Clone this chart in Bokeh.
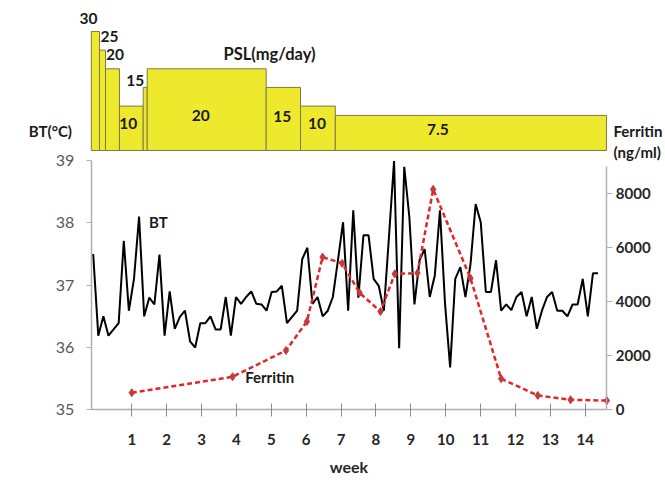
from bokeh.plotting import figure
from bokeh.models import (Range1d, LinearAxis, FixedTicker, Label, ColumnDataSource)
from bokeh.embed import file_html
from bokeh.resources import INLINE

# ---------------- data ----------------
BT_START_WEEK = -0.107
BT_STEP_WEEK = 0.1462
bt_temp = [
    37.50, 36.19, 36.50, 36.19, 36.29, 36.39, 37.71, 36.59, 37.10, 38.10,
    36.50, 36.80, 36.69, 37.49, 36.19, 36.90, 36.30, 36.49, 36.59, 36.10,
    36.00, 36.39, 36.39, 36.50, 36.29, 36.29, 36.81, 36.19, 36.81, 36.70,
    36.81, 36.90, 36.70, 36.69, 36.59, 36.89, 36.90, 36.99, 36.39, 36.49,
    36.59, 37.42, 37.60, 36.70, 36.81, 36.50, 36.59, 36.81, 37.40, 38.01,
    36.59, 38.20, 36.80, 37.80, 37.80, 37.10, 36.99, 36.59, 37.77, 38.99,
    35.99, 38.90, 38.09, 36.69, 37.40, 37.58, 36.81, 37.16, 38.20, 36.70,
    35.68, 37.10, 37.29, 36.81, 37.34, 38.30, 38.01, 36.89, 36.89, 37.40,
    36.59, 36.69, 36.60, 36.81, 36.89, 36.50, 36.81, 36.30, 36.59, 36.81,
    36.89, 36.59, 36.59, 36.50, 36.69, 36.69, 37.10, 36.50, 37.19, 37.19,
]
bt_week = [BT_START_WEEK + i * BT_STEP_WEEK for i in range(len(bt_temp))]

fer_week = [1.00, 3.89, 5.42, 6.02, 6.47, 7.03, 7.53, 8.13, 8.54, 9.19,
            9.64, 10.71, 11.59, 12.64, 13.58, 14.62]
fer_val = [630, 1220, 2190, 3260, 5640, 5410, 4320, 3630, 5020, 5050,
           8140, 4860, 1150, 530, 370, 340]

psl_start = [-0.16, 0.074, 0.246, 0.647, 1.327, 1.442, 4.853, 5.837, 6.835]
psl_end = [0.074, 0.246, 0.647, 1.327, 1.442, 4.853, 5.837, 6.835, 14.61]
psl_dose = [30, 25, 20, 10, 15, 20, 15, 10, 7.5]
psl_text = ["30", "25", "20", "10", "15", "20", "15", "10", "7.5"]

week_ticks = list(range(1, 15))
bt_ticks = [35, 36, 37, 38, 39]
fer_ticks = [0, 2000, 4000, 6000, 8000]

# ---------------- layout / style ----------------
FONT = "Lato"
# the plotting frame covers the whole canvas; axes are pinned at fixed locations
X_FULL = (-2.764, 16.301)
X_AXIS_SPAN = (-0.164, 14.618)
BT_FULL = (33.818, 41.567)
FER_FULL = (-2722, 15115)
PSL_BASE = -1.9
PSL_FULL = (-91.18, 38.31)
psl_inside = [False, False, False, True, False, True, True, True, True]
psl_dx = [-7, 7, 2.5, -3, -10, -6, -1, -1, -33]
psl_dy = [-12.5, -14, -14, -5, -7, 6, -2.5, -5, -3]

p = figure(width=665, height=483, output_backend="svg", toolbar_location=None,
           x_range=Range1d(*X_FULL), y_range=Range1d(*BT_FULL),
           min_border=0, y_axis_location=None, x_axis_location=None)
p.outline_line_color = None
p.grid.visible = False
p.background_fill_color = "white"
p.border_fill_color = "white"

p.extra_y_ranges = {"fer": Range1d(*FER_FULL), "psl": Range1d(*PSL_FULL)}

bar_center = [(a + b) / 2 for a, b in zip(psl_start, psl_end)]
bar_label_y = [(d + PSL_BASE) / 2 if ins else d for d, ins in zip(psl_dose, psl_inside)]
bars = ColumnDataSource(dict(left=psl_start, right=psl_end, top=psl_dose,
                             cx=bar_center, ly=bar_label_y, txt=psl_text,
                             dx=psl_dx, dy=psl_dy))
p.quad(left="left", right="right", top="top", bottom=PSL_BASE, source=bars,
       y_range_name="psl", fill_color="#EFE92E", line_color="#7d7a4a", line_width=1)
p.text(x="cx", y="ly", text="txt", source=bars, y_range_name="psl",
       x_offset="dx", y_offset="dy", text_align="center", text_baseline="middle",
       text_font={"value": FONT}, text_font_style="bold", text_font_size="15.5px",
       text_color="#1a1a1a")

p.line(bt_week, bt_temp, line_color="black", line_width=2)

p.line(fer_week, fer_val, y_range_name="fer", line_color="#e3262a", line_width=2.5,
       line_dash="5 3")
p.scatter(fer_week, fer_val, y_range_name="fer", marker="diamond", size=8,
          fill_color="#c23a3a", line_color="#c23a3a")

axis_col = "#b0b0b0"
yl = LinearAxis(ticker=FixedTicker(ticks=bt_ticks), bounds=(35, 39),
                fixed_location=X_AXIS_SPAN[0])
yl.axis_line_color = axis_col
yl.axis_line_width = 1.5
yl.major_tick_line_color = axis_col
yl.major_tick_out = 5
yl.major_tick_in = 0
yl.minor_tick_line_color = None
yl.major_label_text_font = FONT
yl.major_label_text_font_size = "16px"
yl.major_label_text_color = "#595959"
yl.major_label_standoff = 12
p.add_layout(yl, "left")

yr = LinearAxis(y_range_name="fer", ticker=FixedTicker(ticks=fer_ticks), bounds=(0, 9000),
                fixed_location=X_AXIS_SPAN[1])
yr.axis_line_color = axis_col
yr.axis_line_width = 1.5
yr.major_tick_line_color = axis_col
yr.major_tick_out = 6
yr.major_tick_in = 0
yr.minor_tick_line_color = None
yr.major_label_text_font = FONT
yr.major_label_text_font_size = "15px"
yr.major_label_text_font_style = "bold"
yr.major_label_text_color = "#262626"
yr.major_label_standoff = 3
p.add_layout(yr, "right")

xb = LinearAxis(ticker=FixedTicker(ticks=week_ticks), axis_label="week",
                bounds=X_AXIS_SPAN, fixed_location=bt_ticks[0])
xb.axis_line_color = axis_col
xb.axis_line_width = 1.5
xb.major_tick_line_color = "#8c8c8c"
xb.major_tick_out = 7
xb.major_tick_in = 6
xb.minor_tick_line_color = None
xb.major_label_text_font = FONT
xb.major_label_text_font_size = "15px"
xb.major_label_text_font_style = "bold"
xb.major_label_text_color = "#262626"
xb.major_label_standoff = 17
xb.axis_label_text_font = FONT
xb.axis_label_text_font_size = "16px"
xb.axis_label_text_font_style = "bold"
xb.axis_label_text_color = "#262626"
xb.axis_label_standoff = 9
p.add_layout(xb, "below")

def lab(x, y, t, align="left", rng=None, size="15px"):
    kw = dict(x=x, y=y, text=t, text_font=FONT, text_font_style="bold",
              text_font_size=size, text_color="#1a1a1a", text_align=align,
              text_baseline="middle")
    if rng:
        kw["y_range_name"] = rng
    p.add_layout(Label(**kw))

lab(1.49, 38.02, "BT")
lab(4.25, 35.52, "Ferritin")
lab(4.95, 23.84, "PSL(mg/day)", align="center", rng="psl", size="16.5px")
lab(-1.953, 39.473, "BT(°C)")
lab(14.81, 39.48, "Ferritin")
lab(14.81, 39.136, "(ng/ml)")

open("out.html", "w").write(file_html(p, INLINE))
